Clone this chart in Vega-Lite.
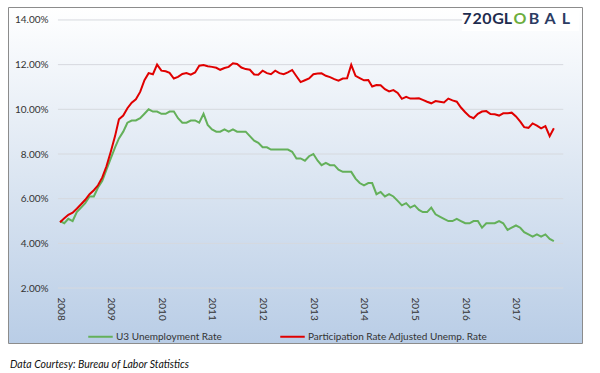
{
  "$schema": "https://vega.github.io/schema/vega-lite/v6.json",
  "autosize": "none",
  "width": 574,
  "height": 336,
  "padding": {"left": 8, "top": 7, "right": 18, "bottom": 30},
  "background": "#ffffff",
  "title": {
    "text": "Data Courtesy: Bureau of Labor Statistics",
    "orient": "bottom",
    "anchor": "start",
    "frame": "group",
    "offset": 17,
    "dx": 2,
    "font": "Lato",
    "fontSize": 10.5,
    "fontStyle": "italic",
    "fontWeight": "normal",
    "color": "#111111"
  },
  "config": {
    "view": {
      "stroke": "#8c8c8c",
      "strokeWidth": 1,
      "fill": {"gradient": "linear", "x1": 0, "y1": 0, "x2": 0, "y2": 1,
        "stops": [{"offset": 0, "color": "#ffffff"}, {"offset": 0.5, "color": "#dce6f2"}, {"offset": 1, "color": "#b9cde6"}]}
    },
    "font": "Lato"
  },
  "datasets": {
    "rates": [
      {"d":"2008/01/01","u":0.050,"p":0.0495},
      {"d":"2008/02/01","u":0.049,"p":0.0512},
      {"d":"2008/03/01","u":0.051,"p":0.0528},
      {"d":"2008/04/01","u":0.050,"p":0.0537},
      {"d":"2008/05/01","u":0.054,"p":0.0555},
      {"d":"2008/06/01","u":0.056,"p":0.0575},
      {"d":"2008/07/01","u":0.058,"p":0.0595},
      {"d":"2008/08/01","u":0.061,"p":0.0620},
      {"d":"2008/09/01","u":0.061,"p":0.0638},
      {"d":"2008/10/01","u":0.065,"p":0.0660},
      {"d":"2008/11/01","u":0.068,"p":0.0695},
      {"d":"2008/12/01","u":0.073,"p":0.0745},
      {"d":"2009/01/01","u":0.078,"p":0.0810},
      {"d":"2009/02/01","u":0.083,"p":0.0880},
      {"d":"2009/03/01","u":0.087,"p":0.0955},
      {"d":"2009/04/01","u":0.090,"p":0.0972},
      {"d":"2009/05/01","u":0.094,"p":0.1005},
      {"d":"2009/06/01","u":0.095,"p":0.1030},
      {"d":"2009/07/01","u":0.095,"p":0.1045},
      {"d":"2009/08/01","u":0.096,"p":0.1078},
      {"d":"2009/09/01","u":0.098,"p":0.1130},
      {"d":"2009/10/01","u":0.100,"p":0.1162},
      {"d":"2009/11/01","u":0.099,"p":0.1157},
      {"d":"2009/12/01","u":0.099,"p":0.1200},
      {"d":"2010/01/01","u":0.098,"p":0.1173},
      {"d":"2010/02/01","u":0.098,"p":0.1170},
      {"d":"2010/03/01","u":0.099,"p":0.1163},
      {"d":"2010/04/01","u":0.099,"p":0.1138},
      {"d":"2010/05/01","u":0.096,"p":0.1145},
      {"d":"2010/06/01","u":0.094,"p":0.1158},
      {"d":"2010/07/01","u":0.094,"p":0.1162},
      {"d":"2010/08/01","u":0.095,"p":0.1155},
      {"d":"2010/09/01","u":0.095,"p":0.1165},
      {"d":"2010/10/01","u":0.094,"p":0.1195},
      {"d":"2010/11/01","u":0.098,"p":0.1198},
      {"d":"2010/12/01","u":0.093,"p":0.1193},
      {"d":"2011/01/01","u":0.091,"p":0.1190},
      {"d":"2011/02/01","u":0.090,"p":0.1186},
      {"d":"2011/03/01","u":0.090,"p":0.1177},
      {"d":"2011/04/01","u":0.091,"p":0.1185},
      {"d":"2011/05/01","u":0.090,"p":0.1190},
      {"d":"2011/06/01","u":0.091,"p":0.1206},
      {"d":"2011/07/01","u":0.090,"p":0.1203},
      {"d":"2011/08/01","u":0.090,"p":0.1187},
      {"d":"2011/09/01","u":0.090,"p":0.1180},
      {"d":"2011/10/01","u":0.088,"p":0.1177},
      {"d":"2011/11/01","u":0.086,"p":0.1156},
      {"d":"2011/12/01","u":0.085,"p":0.1155},
      {"d":"2012/01/01","u":0.083,"p":0.1173},
      {"d":"2012/02/01","u":0.083,"p":0.1162},
      {"d":"2012/03/01","u":0.082,"p":0.1157},
      {"d":"2012/04/01","u":0.082,"p":0.1173},
      {"d":"2012/05/01","u":0.082,"p":0.1162},
      {"d":"2012/06/01","u":0.082,"p":0.1157},
      {"d":"2012/07/01","u":0.082,"p":0.1165},
      {"d":"2012/08/01","u":0.081,"p":0.1176},
      {"d":"2012/09/01","u":0.078,"p":0.1148},
      {"d":"2012/10/01","u":0.078,"p":0.1122},
      {"d":"2012/11/01","u":0.077,"p":0.1130},
      {"d":"2012/12/01","u":0.079,"p":0.1138},
      {"d":"2013/01/01","u":0.080,"p":0.1157},
      {"d":"2013/02/01","u":0.077,"p":0.1160},
      {"d":"2013/03/01","u":0.075,"p":0.1161},
      {"d":"2013/04/01","u":0.076,"p":0.1150},
      {"d":"2013/05/01","u":0.075,"p":0.1144},
      {"d":"2013/06/01","u":0.075,"p":0.1135},
      {"d":"2013/07/01","u":0.073,"p":0.1128},
      {"d":"2013/08/01","u":0.072,"p":0.1138},
      {"d":"2013/09/01","u":0.072,"p":0.1139},
      {"d":"2013/10/01","u":0.072,"p":0.1199},
      {"d":"2013/11/01","u":0.069,"p":0.1150},
      {"d":"2013/12/01","u":0.067,"p":0.1140},
      {"d":"2014/01/01","u":0.066,"p":0.1130},
      {"d":"2014/02/01","u":0.067,"p":0.1131},
      {"d":"2014/03/01","u":0.067,"p":0.1102},
      {"d":"2014/04/01","u":0.062,"p":0.1109},
      {"d":"2014/05/01","u":0.063,"p":0.1108},
      {"d":"2014/06/01","u":0.061,"p":0.1090},
      {"d":"2014/07/01","u":0.062,"p":0.1080},
      {"d":"2014/08/01","u":0.061,"p":0.1086},
      {"d":"2014/09/01","u":0.059,"p":0.1073},
      {"d":"2014/10/01","u":0.057,"p":0.1047},
      {"d":"2014/11/01","u":0.058,"p":0.1056},
      {"d":"2014/12/01","u":0.056,"p":0.1048},
      {"d":"2015/01/01","u":0.057,"p":0.1048},
      {"d":"2015/02/01","u":0.055,"p":0.1049},
      {"d":"2015/03/01","u":0.054,"p":0.1042},
      {"d":"2015/04/01","u":0.054,"p":0.1034},
      {"d":"2015/05/01","u":0.056,"p":0.1027},
      {"d":"2015/06/01","u":0.053,"p":0.1037},
      {"d":"2015/07/01","u":0.052,"p":0.1034},
      {"d":"2015/08/01","u":0.051,"p":0.1031},
      {"d":"2015/09/01","u":0.050,"p":0.1048},
      {"d":"2015/10/01","u":0.050,"p":0.1040},
      {"d":"2015/11/01","u":0.051,"p":0.1034},
      {"d":"2015/12/01","u":0.050,"p":0.1008},
      {"d":"2016/01/01","u":0.049,"p":0.0987},
      {"d":"2016/02/01","u":0.049,"p":0.0968},
      {"d":"2016/03/01","u":0.050,"p":0.0960},
      {"d":"2016/04/01","u":0.050,"p":0.0980},
      {"d":"2016/05/01","u":0.047,"p":0.0990},
      {"d":"2016/06/01","u":0.049,"p":0.0992},
      {"d":"2016/07/01","u":0.049,"p":0.0979},
      {"d":"2016/08/01","u":0.049,"p":0.0978},
      {"d":"2016/09/01","u":0.050,"p":0.0972},
      {"d":"2016/10/01","u":0.049,"p":0.0982},
      {"d":"2016/11/01","u":0.046,"p":0.0982},
      {"d":"2016/12/01","u":0.047,"p":0.0985},
      {"d":"2017/01/01","u":0.048,"p":0.0968},
      {"d":"2017/02/01","u":0.047,"p":0.0945},
      {"d":"2017/03/01","u":0.045,"p":0.0920},
      {"d":"2017/04/01","u":0.044,"p":0.0917},
      {"d":"2017/05/01","u":0.043,"p":0.0937},
      {"d":"2017/06/01","u":0.044,"p":0.0927},
      {"d":"2017/07/01","u":0.043,"p":0.0915},
      {"d":"2017/08/01","u":0.044,"p":0.0925},
      {"d":"2017/09/01","u":0.042,"p":0.0880},
      {"d":"2017/10/01","u":0.041,"p":0.0915}
    ],
    "grid": [{"g":0.02},{"g":0.04},{"g":0.06},{"g":0.08},{"g":0.10},{"g":0.12},{"g":0.14}],
    "logo": [
      {"t":"7","part":"a","d":"2016/01/13","v":0.1404},
      {"t":"2","part":"a","d":"2016/03/26","v":0.1404},
      {"t":"0","part":"a","d":"2016/06/06","v":0.1404},
      {"t":"G","part":"a","d":"2016/08/24","v":0.1404},
      {"t":"L","part":"a","d":"2016/11/04","v":0.1404},
      {"t":"O","part":"b","d":"2017/01/30","v":0.1404},
      {"t":"B","part":"c","d":"2017/05/11","v":0.1404},
      {"t":"A","part":"c","d":"2017/09/03","v":0.1404},
      {"t":"L","part":"c","d":"2017/12/27","v":0.1404}
    ]
  },
  "layer": [
    {
      "data": {"name": "grid"},
      "mark": {"type": "rule", "color": "#d6d9de", "strokeWidth": 1},
      "encoding": {
        "y": {"field": "g", "type": "quantitative",
          "scale": {"domain": [-0.0046, 0.1458], "nice": false, "zero": false},
          "axis": {"values": [0.02,0.04,0.06,0.08,0.10,0.12,0.14], "format": ".2%", "orient": "left", "offset": -45,
            "domain": false, "ticks": false, "grid": false, "labelPadding": 5, "title": null,
            "labelFont": "Lato", "labelFontSize": 10, "labelColor": "#333333"}},
        "x": {"datum": {"year": 2007, "month": 12, "date": 17}, "type": "temporal",
          "scale": {"domain": [{"year": 2006, "month": 12, "date": 22}, {"year": 2018, "month": 4, "date": 22}], "nice": false},
          "axis": {"values": [{"year":2008,"month":1,"date":1},{"year":2009,"month":1,"date":1},{"year":2010,"month":1,"date":1},{"year":2011,"month":1,"date":1},{"year":2012,"month":1,"date":1},{"year":2013,"month":1,"date":1},{"year":2014,"month":1,"date":1},{"year":2015,"month":1,"date":1},{"year":2016,"month":1,"date":1},{"year":2017,"month":1,"date":1}],
            "format": "%Y", "orient": "bottom", "offset": -55, "labelAngle": 90, "labelPadding": 9,
            "domain": false, "ticks": false, "grid": false, "title": null,
            "labelFont": "Lato", "labelFontSize": 10, "labelColor": "#333333"}},
        "x2": {"datum": {"year": 2017, "month": 12, "date": 8}}
      }
    },
    {
      "data": {"values": [{}]},
      "mark": {"type": "rect", "fill": "#ffffff"},
      "encoding": {
        "x": {"datum": {"year": 2015, "month": 12, "date": 8}, "type": "temporal"},
        "x2": {"datum": {"year": 2018, "month": 3, "date": 30}},
        "y": {"datum": 0.14537, "type": "quantitative"},
        "y2": {"datum": 0.13507}
      }
    },
    {
      "data": {"name": "rates"},
      "transform": [
        {"fold": ["u", "p"], "as": ["key", "rate"]},
        {"lookup": "key", "from": {"data": {"values": [{"key":"u","series":"U3 Unemployment Rate"},{"key":"p","series":"Participation Rate Adjusted Unemp. Rate"}]}, "key": "key", "fields": ["series"]}}
      ],
      "mark": {"type": "line", "strokeWidth": 2},
      "encoding": {
        "x": {"field": "d", "type": "temporal"},
        "y": {"field": "rate", "type": "quantitative"},
        "color": {"field": "series", "type": "nominal",
          "scale": {"domain": ["U3 Unemployment Rate", "Participation Rate Adjusted Unemp. Rate"], "range": ["#64b05a", "#e00000"]},
          "legend": {"title": null, "orient": "none", "legendX": 79, "legendY": 316, "direction": "horizontal",
            "symbolType": "stroke", "symbolSize": 600, "symbolStrokeWidth": 2, "labelOffset": 2,
            "columnPadding": 54, "labelFont": "Lato", "labelFontSize": 10, "labelColor": "#333333", "labelLimit": 400}}
      }
    },
    {
      "data": {"name": "logo"},
      "mark": {"type": "text", "align": "center", "baseline": "middle", "font": "Lato", "fontSize": 16, "fontWeight": "bold"},
      "encoding": {
        "x": {"field": "d", "type": "temporal"},
        "y": {"field": "v", "type": "quantitative"},
        "text": {"field": "t"},
        "color": {"field": "part", "type": "nominal", "scale": {"domain": ["a","b","c"], "range": ["#1f2d4f", "#6dae3e", "#2c3c63"]}, "legend": null}
      }
    }
  ],
  "resolve": {"scale": {"color": "independent"}}
}
